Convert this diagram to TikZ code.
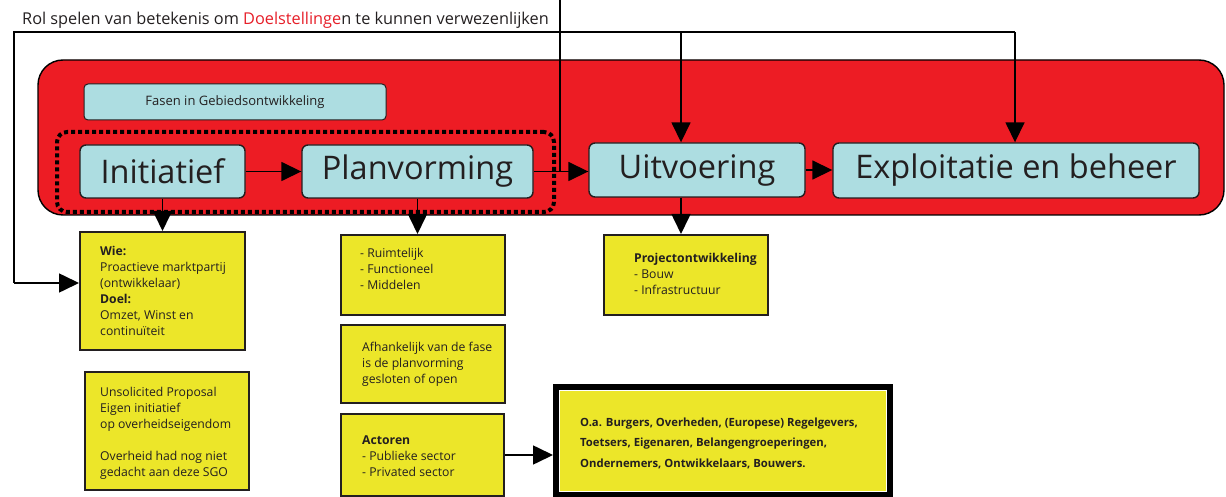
\documentclass[tikz,border=0pt]{standalone}
\usepackage{fontspec}
\setmainfont{Open Sans}
\usetikzlibrary{arrows.meta}
\definecolor{phasered}{RGB}{237,28,36}
\definecolor{phaseblue}{RGB}{173,221,225}
\definecolor{noteyellow}{RGB}{236,230,41}
\definecolor{ink}{RGB}{35,31,32}
\definecolor{titlered}{RGB}{230,30,40}

\begin{document}
\begin{tikzpicture}[x=1pt,y=-1pt,
  conn/.style={line width=1.6pt, draw=black},
  arr/.style={conn, -{Triangle[length=20pt,width=19pt]}},
  phase/.style={draw=ink, line width=1.4pt, fill=phaseblue, rounded corners=6pt,
    inner sep=0pt, font=\fontsize{32.5}{38}\selectfont, text=ink},
  note/.style={draw=ink, line width=2pt, fill=noteyellow, inner sep=0pt},
  notetext/.style={anchor=west, align=left, inner sep=0pt,
    font=\fontsize{12.2}{16}\selectfont, text=ink},
]
\useasboundingbox (0,0) rectangle (1226,497);

% title line
\node[anchor=base west, inner sep=0pt, font=\fontsize{16.3}{19}\selectfont, text=ink]
  (title) at (22,25) {Rol spelen van betekenis om \textcolor{titlered}{Doelstellinge}n te kunnen verwezenlijken};

% red band with the phases
\node[draw=black, line width=1.4pt, fill=phasered, rounded corners=25pt,
  minimum width=1186pt, minimum height=155pt, inner sep=0pt] (band) at (631,137.5) {};

\node[draw=ink, line width=1pt, fill=phaseblue, rounded corners=4pt, inner sep=0pt,
  minimum width=302pt, minimum height=36pt, font=\fontsize{13}{15}\selectfont, text=ink]
  (fasen) at (235,102) {Fasen in Gebiedsontwikkeling};

\node[phase, minimum width=165pt, minimum height=53pt] (init) at (162.5,171.5) {Initiatief};
\node[phase, minimum width=231pt, minimum height=53pt] (plan) at (417.5,171.5) {Planvorming};
\node[phase, minimum width=216pt, minimum height=54pt] (uitv) at (697,170) {Uitvoering};
\node[phase, minimum width=366pt, minimum height=55pt] (expl) at (1016,170.5) {Exploitatie en beheer};

% dotted frame round the first two phases
\node[draw=black, line width=4pt, dash pattern=on 4pt off 3pt, rounded corners=10pt,
  minimum width=497pt, minimum height=80pt, inner sep=0pt] (early) at (305.5,172) {};

% yellow notes
\node[note, minimum width=165pt, minimum height=118pt] (wie) at (162.5,291) {};
\node[notetext] (wieT) at ([xshift=21pt]wie.west)
  {\textbf{Wie:}\\Proactieve marktpartij\\(ontwikkelaar)\\\textbf{Doel:}\\Omzet, Winst en\\continuïteit};

\node[note, minimum width=164pt, minimum height=118pt] (uns) at (167,431) {};
\node[notetext] (unsT) at ([xshift=16pt,yshift=-2pt]uns.west)
  {Unsolicited Proposal\\Eigen initiatief\\op overheidseigendom\\[16pt]Overheid had nog niet\\gedacht aan deze SGO};

\node[note, minimum width=164pt, minimum height=80pt] (ruim) at (423,275) {};
\node[notetext] (ruimT) at ([xshift=20pt,yshift=6pt]ruim.west)
  {- Ruimtelijk\\- Functioneel\\- Middelen};

\node[note, minimum width=164pt, minimum height=78pt] (afh) at (423,364) {};
\node[notetext] (afhT) at ([xshift=22pt]afh.west)
  {Afhankelijk van de fase\\is de planvorming\\gesloten of open};

\node[note, minimum width=163pt, minimum height=82pt] (act) at (422.5,455) {};
\node[notetext] (actT) at ([xshift=22pt,yshift=-1pt]act.west)
  {\textbf{Actoren}\\- Publieke sector\\- Privated sector};

\node[note, minimum width=164pt, minimum height=80pt] (proj) at (686,275) {};
\node[notetext] (projT) at ([xshift=31pt,yshift=1pt]proj.west)
  {\textbf{Projectontwikkeling}\\- Bouw\\- Infrastructuur};

% actors list, heavy frame with a thin white inner rule
\node[draw=black, line width=6pt, fill=noteyellow, minimum width=334pt, minimum height=108pt,
  inner sep=0pt] (big) at (723,441) {};
\draw[white, line width=1.2pt] ([xshift=6.5pt,yshift=-6.5pt]big.north west) rectangle ([xshift=-6.5pt,yshift=6.5pt]big.south east);
\node[notetext, font=\bfseries\fontsize{11.3}{20.5}\selectfont] (bigT) at ([xshift=27pt,yshift=-2pt]big.west)
  {O.a. Burgers, Overheden, (Europese) Regelgevers,\\Toetsers, Eigenaren, Belangengroeperingen,\\Ondernemers, Ontwikkelaars, Bouwers.};

% phase sequence
\draw[arr] (init.east) -- (plan.west);
\draw[arr] (plan.east) -- (plan.east -| uitv.west);
\draw[arr] (uitv.east) -- (uitv.east -| expl.west);

% feedback from the goals
\coordinate (lc) at (14,32);
\coordinate (t1) at (681,32);
\coordinate (t2) at (1015,32);
\coordinate (lb) at (14,283);
\coordinate (vt) at (560,0);
\draw[conn] (t2) -- (lc) -- (lb);
\draw[arr] (lb) -- (lb -| wie.west);
\draw[arr] (t1) -- (t1 |- uitv.north);
\draw[arr] (t2) -- (t2 |- expl.north);
\draw[conn] (vt) -- (vt |- plan.east);

% phases down to their notes
\draw[arr] (init.south) -- (init.south |- wie.north);
\draw[arr] (plan.south) -- (plan.south |- ruim.north);
\draw[arr] (t1 |- uitv.south) -- (t1 |- proj.north);
\draw[arr] (act.east) -- (act.east -| big.west);
\end{tikzpicture}
\end{document}
